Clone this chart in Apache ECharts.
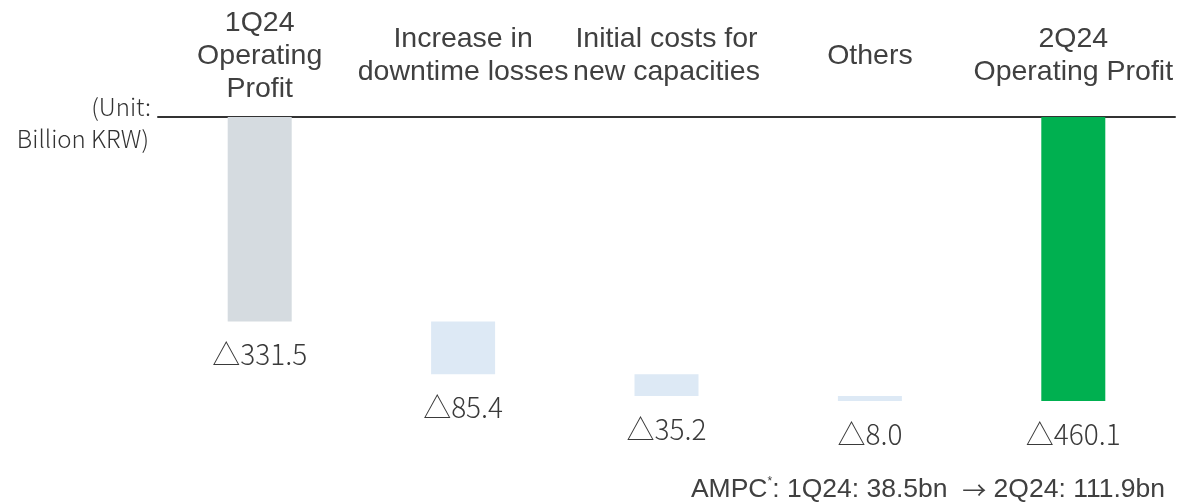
<!DOCTYPE html>
<html><head><meta charset="utf-8">
<script src="https://cdn.jsdelivr.net/npm/echarts@6/dist/echarts.min.js"></script>
<style>html,body{margin:0;padding:0;background:#fff}#c{width:1178px;height:502px}</style>
</head><body><div id="c"></div>
<script>
const categories = ['1Q24\nOperating\nProfit', 'Increase in\ndowntime losses', 'Initial costs for\nnew capacities', 'Others', '2Q24\nOperating Profit'];
const values = [-331.5, -85.4, -35.2, -8.0, -460.1];
const isTotal = [true, false, false, false, true];
const barColors = ['#d5dbe0', '#dde9f5', '#dde9f5', '#dde9f5', '#00b050'];

// waterfall base (transparent offset) derived from the values
const base = [];
let run = 0;
values.forEach((v, i) => {
  if (isTotal[i]) { base.push(0); run = v; }
  else { base.push(run); run += v; }
});

const chart = echarts.init(document.getElementById('c'));
chart.setOption({
  animation: false,
  grid: { left: 158, width: 1017, top: 117, bottom: 76.5 },
  xAxis: {
    type: 'category', data: categories, position: 'top',
    axisLine: { lineStyle: { color: '#333', width: 2 } },
    axisTick: { show: false },
    axisLabel: { interval: 0, fontFamily: 'Liberation Sans', fontSize: 28.5, lineHeight: 33,
      color: '#404040', verticalAlign: 'middle', margin: 61 }
  },
  yAxis: { type: 'value', min: -500, max: 0, show: false, splitLine: { show: false } },
  series: [
    { type: 'bar', stack: 'w', data: base, barWidth: 64, itemStyle: { color: 'transparent' }, silent: true },
    { type: 'bar', stack: 'w', barWidth: 64,
      data: values.map((v, i) => ({ value: v, itemStyle: { color: barColors[i] } })),
      label: { show: true, position: 'bottom', distance: 19,
        fontFamily: 'Noto Sans CJK KR', fontWeight: 300, fontSize: 28, color: '#3a3a3a',
        formatter: p => '\u25B3' + Math.abs(p.value).toFixed(1) } }
  ],
  graphic: [
    { type: 'text', right: 1178 - 151, top: 95, style: { text: '(Unit:', textAlign: 'right',
      font: '300 24px "Noto Sans CJK KR"', fill: '#333' } },
    { type: 'text', right: 1178 - 149, top: 127, style: { text: 'Billion KRW)', textAlign: 'right',
      font: '300 24px "Noto Sans CJK KR"', fill: '#333' } },
    { type: 'text', right: 13, top: 476, style: {
      rich: { a: { fontFamily: 'Liberation Sans', fontSize: 26.5, fill: '#404040' },
              r: { fontFamily: 'Noto Sans CJK KR', fontSize: 24, fill: '#404040' },
              s: { fontFamily: 'Liberation Sans', fontSize: 12, fill: '#404040', verticalAlign: 'top', padding: [0, 0, 12, 0] } },
      text: '{a|AMPC}{s|*}{a|: 1Q24: 38.5bn  }{r|\u2192}{a| 2Q24: 111.9bn}' } }
  ]
});
</script></body></html>
